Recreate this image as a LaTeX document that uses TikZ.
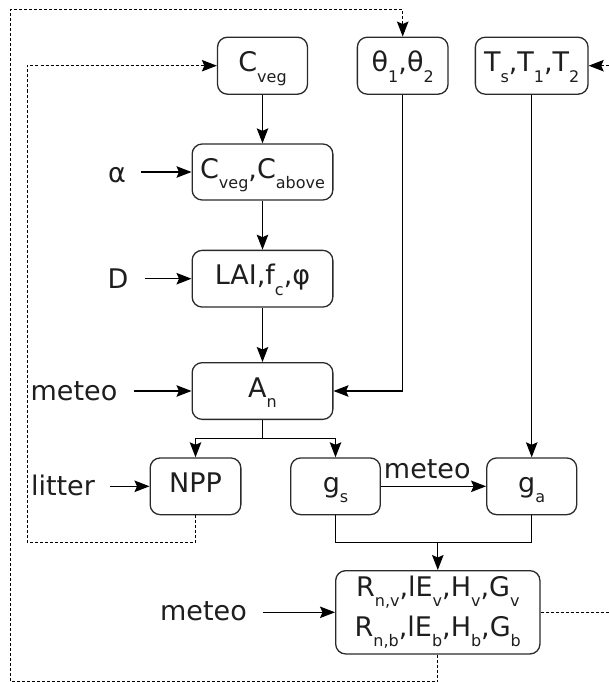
\documentclass[tikz,border=0pt]{standalone}
\usepackage{fontspec}
\setmainfont{DejaVu Sans}
\usetikzlibrary{arrows.meta}
\newcommand{\sbs}[1]{\raisebox{-10.5pt}{\fontsize{16}{16}\selectfont #1}}
\definecolor{txtc}{HTML}{1E1E1E}
\definecolor{boxc}{HTML}{2A2A2A}
\begin{document}
\begin{tikzpicture}[x=1pt,y=-1pt,
  font=\fontsize{27}{32}\selectfont, text=txtc,
  box/.style={draw=boxc, line width=1.3pt, rounded corners=10pt, inner sep=0pt,
    minimum height=56.7pt, text height=20pt, text depth=8pt},
  lbl/.style={inner sep=0pt, anchor=base},
  tip/.style={-{Stealth[length=15pt,width=11.5pt,inset=2.5pt]}},
  arr/.style={tip, line width=1.2pt, draw=black},
  ln/.style={line width=1.2pt, draw=black},
  fb/.style={tip, dash pattern=on 3pt off 2pt, line width=1pt, draw=black}]
\useasboundingbox (0,0) rectangle (609,682);
% boxes
\node[box, minimum width=90pt, minimum height=57pt] (cveg) at (262.5,65.7) {C\sbs{veg}};
\node[box, minimum width=90.7pt, minimum height=57pt] (theta) at (402.7,65.7) {θ\sbs{1},θ\sbs{2}};
\node[box, minimum width=112.7pt, minimum height=57pt] (ts) at (531.7,65.7) {T\sbs{s},T\sbs{1},T\sbs{2}};
\node[box, minimum width=140.7pt, minimum height=56pt] (cab) at (262.5,172) {C\sbs{veg},C\sbs{above}};
\node[box, minimum width=140.7pt] (lai) at (262.5,278.7) {LAI,f\sbs{c},φ};
\node[box, minimum width=140.7pt] (an) at (262.5,391) {A\sbs{n}};
\node[box, minimum width=90.7pt] (npp) at (195.5,486.3) {NPP};
\node[box, minimum width=89.6pt] (gs) at (335.5,486.3) {g\sbs{s}};
\node[box, minimum width=90pt] (ga) at (531.7,486.3) {g\sbs{a}};
\node[box, minimum width=204.3pt, minimum height=83.3pt, text height={}, text depth={},
  align=center, font=\fontsize{27}{40}\selectfont] (rb) at (437.8,612.3)
  {R\sbs{n,v},lE\sbs{v},H\sbs{v},G\sbs{v}\\R\sbs{n,b},lE\sbs{b},H\sbs{b},G\sbs{b}};
% labels
\node[lbl] (alpha) at (117,182.5) {α};
\node[lbl] (dd) at (118,288) {D};
\node[lbl] (met1) at (74,400.5) {meteo};
\node[lbl] (lit) at (63,495.7) {litter};
\node[lbl] (met2) at (203.5,620.7) {meteo};
\node[lbl] (met3) at (427.3,478) {meteo};
% input arrows
\draw[arr] ([xshift=14.5pt]alpha.east |- cab.west) -- (cab.west);
\draw[arr] ([xshift=16pt]dd.east |- lai.west) -- (lai.west);
\draw[arr] ([xshift=16pt]met1.east |- an.west) -- (an.west);
\draw[arr] ([xshift=15pt]lit.east |- npp.west) -- (npp.west);
\draw[arr] ([xshift=15.5pt]met2.east |- rb.west) -- (rb.west);
% main flow
\draw[arr] (cveg) -- (cab);
\draw[arr] (cab) -- (lai);
\draw[arr] (lai) -- (an);
\draw[arr] (theta.south) |- (an.east);
\draw[arr] (ts) -- (ga);
\coordinate (anb) at (262.5,438.7);
\draw[ln] (an.south) -- (anb);
\draw[arr] (anb) -| (npp.north);
\draw[arr] (anb) -| (gs.north);
\draw[arr] (gs) -- (ga);
\coordinate (jn) at (437.8,542.3);
\draw[ln] (gs.south) -- (gs.south |- jn) -- (ga.south |- jn) -- (ga.south);
\draw[arr] (jn) -- (rb.north);
% feedback (dotted)
\coordinate (f1) at (27.3,542.3);
\draw[fb] (npp.south) -- (npp.south |- f1) -- (f1) -- (f1 |- cveg.west) -- (cveg.west);
\coordinate (f2) at (609,612.3);
\draw[fb] (rb.east) -- (f2) -- (f2 |- ts.east) -- (ts.east);
\coordinate (f3) at (10,681.5);
\coordinate (f4) at (10,10);
\draw[fb] (rb.south) -- (rb.south |- f3) -- (f3) -- (f4) -- (theta.north |- f4) -- (theta.north);
\end{tikzpicture}
\end{document}
